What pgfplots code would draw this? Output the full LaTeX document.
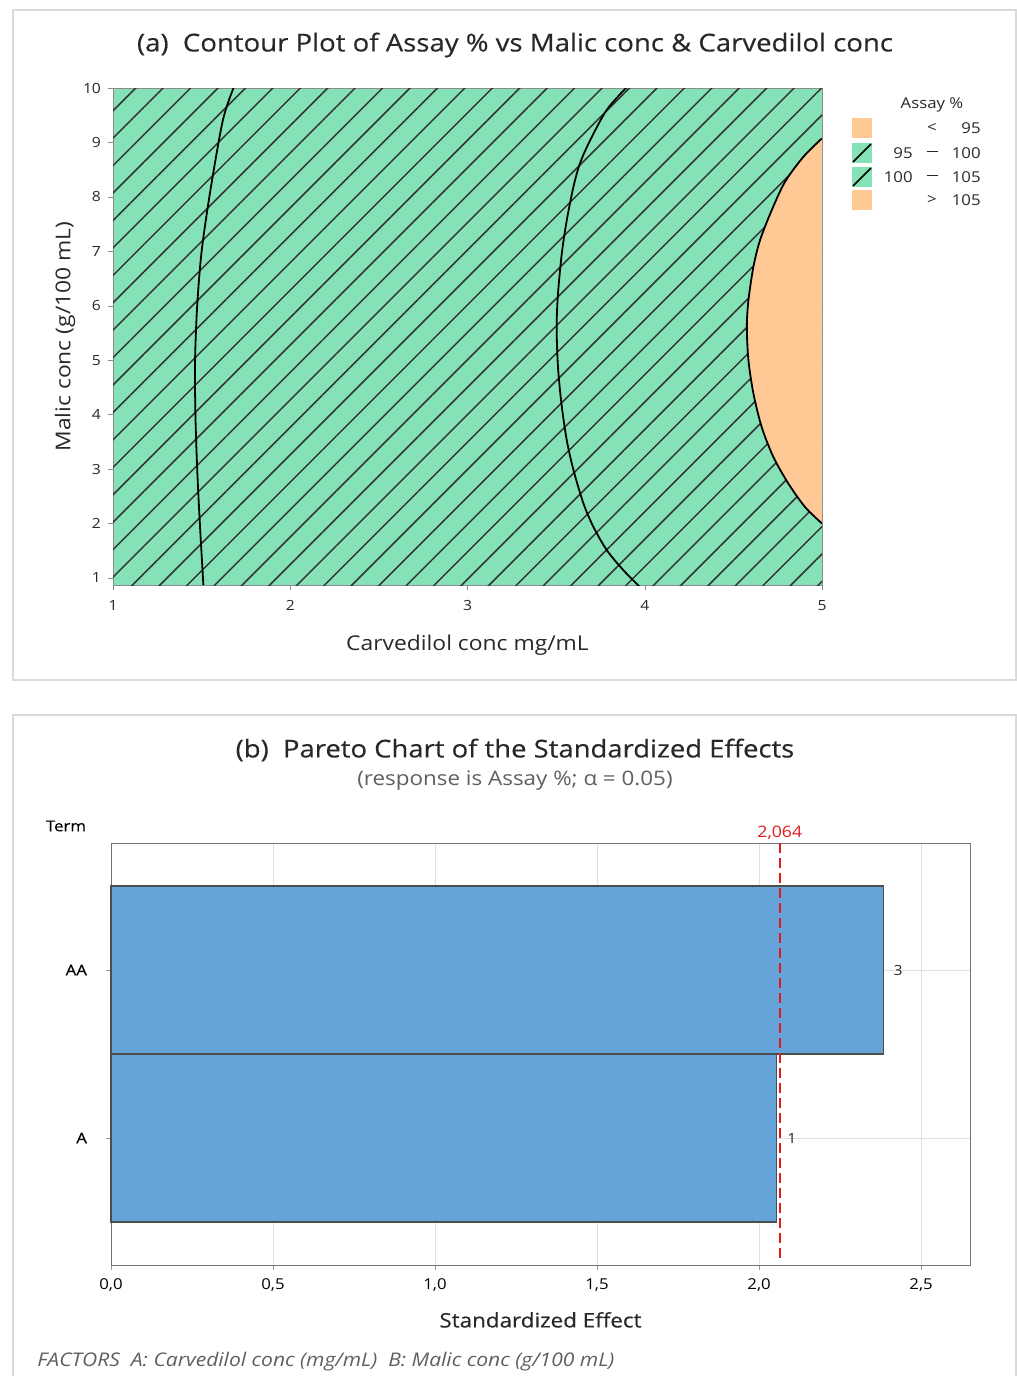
\documentclass[border=0pt]{standalone}
\usepackage{fontspec}
\setmainfont{Open Sans}[FakeStretch=1.12]
\newfontfamily\medfont{Open Sans}[FakeStretch=1.12, FakeBold=0.35]
\usepackage{pgfplots}
\pgfplotsset{compat=1.18}
\usetikzlibrary{patterns.meta}
\definecolor{cgreen}{RGB}{133,226,182}
\definecolor{corange}{RGB}{255,201,150}
\definecolor{cblue}{RGB}{101,164,216}
\definecolor{cred}{RGB}{225,25,25}
\definecolor{cframe}{RGB}{218,218,218}
\definecolor{ctext}{RGB}{40,40,40}
\definecolor{cgraytext}{RGB}{95,95,95}
\newcommand{\ldash}{\raisebox{0.22em}{\rule{5.5pt}{0.55pt}}}
\begin{document}
\begin{tikzpicture}
\path[use as bounding box] (0pt,0pt) rectangle (508.5pt,-688pt);
% panel frames
\draw[cframe, line width=0.7pt] (6.5pt,-5pt) rectangle (508pt,-340pt);
\draw[cframe, line width=0.7pt] (6.5pt,-700pt) -- (6.5pt,-357.5pt) -- (508pt,-357.5pt) -- (508pt,-700pt);
% title panel a
\node[font=\medfont\fontsize{12.3}{14}\selectfont, text=ctext] at (257.5pt,-22.5pt) {(a)\ \ Contour Plot of Assay \% vs Malic conc \& Carvedilol conc};

\begin{axis}[
  at={(56.5pt,-44pt)}, anchor=north west, scale only axis,
  width=354.5pt, height=248.5pt,
  xmin=1, xmax=5, ymin=0.87, ymax=10,
  xtick={1,2,3,4,5}, ytick={1,2,3,4,5,6,7,8,9,10},
  axis background/.style={fill=cgreen},
  tick align=outside, tick pos=left, major tick length=2.5pt,
  axis line style={black!45}, tick style={black!45},
  ticklabel style={font=\fontsize{7}{8}\selectfont, text=ctext},
  xticklabel style={yshift=-1.5pt},
  /pgf/number format/assume math mode=true,
  xlabel={Carvedilol conc mg/mL}, ylabel={Malic conc (g/100 mL)},
  label style={font=\fontsize{10.2}{12}\selectfont, text=ctext},
  xlabel style={at={(axis description cs:0.5,-0.1207)}, anchor=center},
  ylabel style={at={(axis description cs:-0.0677,0.5)}, anchor=center},
]
\addplot[draw=none, pattern={Lines[angle=45,distance=9.7pt,line width=0.75pt]}, pattern color=black!80]
  coordinates {(1,0.87) (5,0.87) (5,10) (1,10)} -- cycle;
\addplot[draw=none, fill=corange, smooth]
  coordinates {(5.0,9.075) (4.896,8.74) (4.792,8.28) (4.717,7.76) (4.651,7.21) (4.613,6.715) (4.585,6.10) (4.576,5.61) (4.585,5.0) (4.613,4.39) (4.66,3.77) (4.726,3.22) (4.811,2.73) (4.905,2.30) (5.0,2.0)} -- cycle;
\addplot[black, line width=0.9pt, smooth]
  coordinates {(5.0,9.075) (4.896,8.74) (4.792,8.28) (4.717,7.76) (4.651,7.21) (4.613,6.715) (4.585,6.10) (4.576,5.61) (4.585,5.0) (4.613,4.39) (4.66,3.77) (4.726,3.22) (4.811,2.73) (4.905,2.30) (5.0,2.0)};
\addplot[black, line width=0.9pt, smooth]
  coordinates {(1.68,10) (1.62,9.41) (1.55,8.13) (1.50,7.0) (1.475,6.0) (1.463,5.0) (1.465,4.0) (1.475,3.0) (1.49,2.0) (1.51,0.87)};
\addplot[black, line width=0.9pt, smooth]
  coordinates {(3.90,10.02) (3.786,9.60) (3.692,9.04) (3.635,8.62) (3.598,8.19) (3.56,7.57) (3.532,6.96) (3.51,6.2) (3.503,5.6) (3.51,4.9) (3.53,4.2) (3.56,3.53) (3.598,2.98) (3.654,2.37) (3.71,1.94) (3.786,1.51) (3.88,1.14) (3.974,0.83)};
\end{axis}

% legend panel a
\node[font=\fontsize{7.5}{9}\selectfont, text=ctext] at (466pt,-52.5pt) {Assay \%};
\fill[corange] (426pt,-59pt) rectangle (436pt,-69pt);
\fill[cgreen] (426pt,-71.5pt) rectangle (436pt,-81.5pt);
\draw[black, line width=0.8pt] (426.5pt,-81pt) -- (435.5pt,-72pt);
\fill[cgreen] (426pt,-83.5pt) rectangle (436pt,-93.5pt);
\draw[black, line width=0.8pt] (426.5pt,-93pt) -- (435.5pt,-84pt);
\fill[corange] (426pt,-95pt) rectangle (436pt,-105pt);
\begin{scope}[every node/.style={font=\fontsize{7.5}{9}\selectfont, text=ctext, inner sep=0pt}]
\node at (466pt,-64pt) {<};
\node[anchor=east] at (490.5pt,-64pt) {95};
\node[anchor=east] at (456.5pt,-76.5pt) {95};
\node at (466pt,-76.5pt) {\ldash};
\node[anchor=east] at (490.5pt,-76.5pt) {100};
\node[anchor=east] at (456.5pt,-88.5pt) {100};
\node at (466pt,-88.5pt) {\ldash};
\node[anchor=east] at (490.5pt,-88.5pt) {105};
\node at (466pt,-100pt) {>};
\node[anchor=east] at (490.5pt,-100pt) {105};
\end{scope}

% titles panel b
\node[font=\medfont\fontsize{12.25}{14}\selectfont, text=ctext] at (257.5pt,-375pt) {(b)\ \ Pareto Chart of the Standardized Effects};
\node[font=\fontsize{10}{11}\selectfont, text=cgraytext] at (257.5pt,-390.5pt) {(response is Assay \%; α = 0.05)};
\node[font=\medfont\fontsize{7.5}{9}\selectfont, text=black] at (33pt,-413pt) {Term};

\begin{axis}[
  at={(55.5pt,-421.5pt)}, anchor=north west, scale only axis,
  width=429.5pt, height=211pt,
  xmin=0, xmax=2.651, ymin=-0.756, ymax=1.756,
  ytick={0,1}, yticklabels={A,AA},
  xtick={0,0.5,1,1.5,2,2.5},
  grid=major, major grid style={black!12},
  tick align=outside, tick pos=left, major tick length=2.5pt,
  axis line style={black!55}, tick style={black!40},
  ticklabel style={font=\fontsize{7.5}{9}\selectfont, text=black},
  yticklabel style={xshift=-6pt, font=\medfont\fontsize{7.5}{9}\selectfont},
  xticklabel style={yshift=-1pt, /pgf/number format/.cd, fixed, fixed zerofill, precision=1, use comma},
  /pgf/number format/assume math mode=true,
  xlabel={Standardized Effect},
  xlabel style={font=\medfont\fontsize{10}{12}\selectfont, text=ctext, at={(axis description cs:0.5,-0.130)}, anchor=center},
  clip=false,
]
\addplot[xbar, bar width=1, fill=cblue, draw=black!70, line width=0.6pt] coordinates {(2.055,0) (2.383,1)};
\addplot[cred, line width=0.9pt, dash pattern=on 5pt off 2.5pt] coordinates {(2.064,-0.714) (2.064,1.756)};
\node[anchor=south, font=\fontsize{7.9}{9}\selectfont, text=cred, inner sep=1.5pt] at (axis cs:2.064,1.756) {2,064};
\node[anchor=west, font=\fontsize{7}{8}\selectfont, text=ctext, inner sep=5pt] at (axis cs:2.383,1) {3};
\node[anchor=west, font=\fontsize{7}{8}\selectfont, text=ctext, inner sep=5pt] at (axis cs:2.055,0) {1};
\end{axis}

\node[anchor=west, font=\fontsize{9.4}{11}\selectfont\itshape, text=cgraytext, inner sep=0pt] at (18.5pt,-681pt) {FACTORS\ \ A: Carvedilol conc (mg/mL)\ \ B: Malic conc (g/100 mL)};
\end{tikzpicture}
\end{document}
